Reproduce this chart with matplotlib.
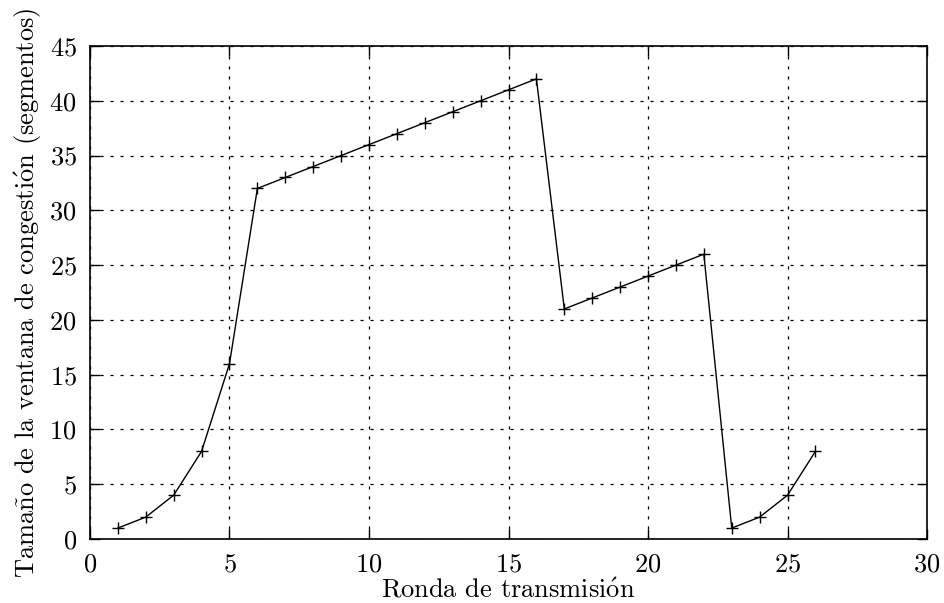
import matplotlib
matplotlib.use("Agg")
import matplotlib.pyplot as plt

# congestion window per transmission round
rondas = list(range(1, 27))
ventana = [1, 2, 4, 8, 16, 32, 33, 34, 35, 36, 37, 38, 39, 40, 41, 42,
           21, 22, 23, 24, 25, 26, 1, 2, 4, 8]

xticks = [0, 5, 10, 15, 20, 25, 30]
yticks = [0, 5, 10, 15, 20, 25, 30, 35, 40, 45]

plt.rcParams['font.family'] = ['cmr10', 'DejaVu Serif']
plt.rcParams['mathtext.fontset'] = 'cm'
plt.rcParams['axes.formatter.use_mathtext'] = True
plt.rcParams['font.size'] = 19

fig = plt.figure(figsize=(9.45, 6.03), dpi=100)
ax = fig.add_axes([0.0952, 0.1061, 0.8858, 0.8176])

ax.plot(rondas, ventana, color='black', linewidth=1.0, marker='+',
        markersize=9, markeredgewidth=1.0)

ax.set_xlim(0, 30)
ax.set_ylim(0, 45)
ax.set_xticks(xticks)
ax.set_yticks(yticks)
ax.tick_params(direction='in', top=True, right=True, length=7, width=1.0)
ax.tick_params(axis='x', pad=10)
ax.tick_params(axis='y', pad=9.5)
ax.grid(True, color='black', linestyle=(0, (2.5, 5.5)), linewidth=0.9)

for s in ax.spines.values():
    s.set_linewidth(1.2)

ax.set_xlabel(r"Ronda de transmisi$\mathrm{\acute{o}}$n", labelpad=1)
ax.set_ylabel(r"Tama$\mathrm{\tilde{n}}$o de la ventana de congesti$\mathrm{\acute{o}}$n (segmentos)",
              labelpad=4)

fig.savefig("out.png", dpi=100)
